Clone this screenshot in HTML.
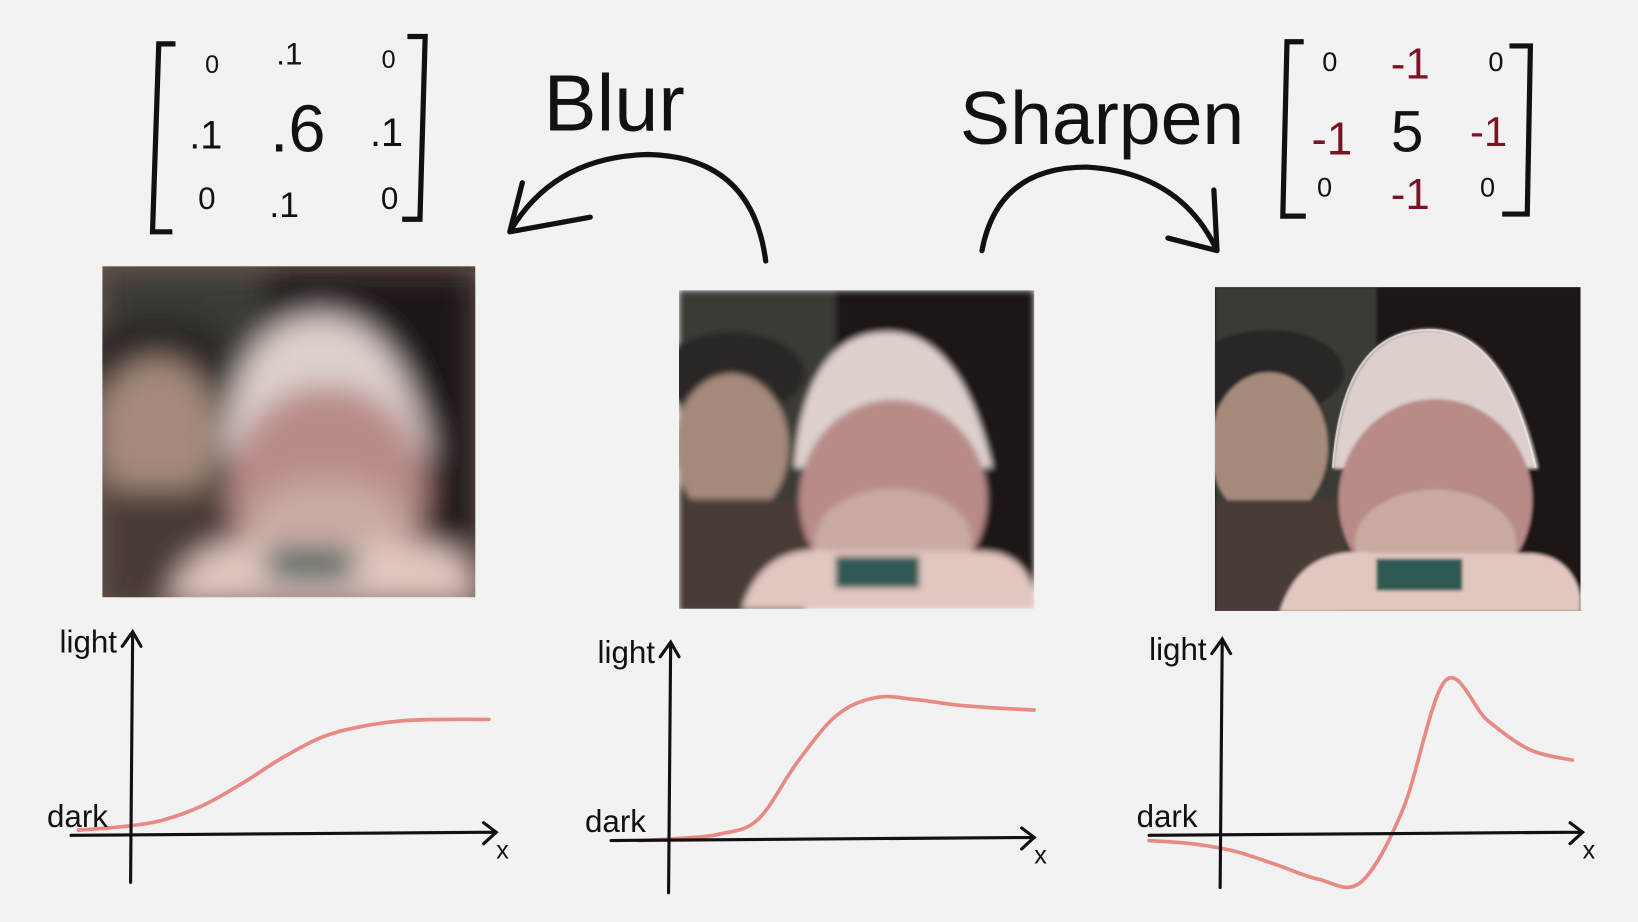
<!DOCTYPE html>
<html><head><meta charset="utf-8">
<style>
html,body{margin:0;padding:0;background:#f2f2f2;}
svg{display:block;}
text{font-family:"Liberation Sans",sans-serif;}
</style></head>
<body>
<svg id="root" width="1638" height="922" viewBox="0 0 1568 883" preserveAspectRatio="none" xmlns="http://www.w3.org/2000/svg">
<defs>
<filter id="blurBig" x="-20%" y="-20%" width="140%" height="140%"><feGaussianBlur stdDeviation="14"/></filter>
<filter id="blurSm"><feGaussianBlur stdDeviation="3"/></filter>
<filter id="blurXs"><feGaussianBlur stdDeviation="1.5"/></filter>
<clipPath id="c1"><rect x="98" y="255" width="357" height="317"/></clipPath>
<clipPath id="c2"><rect x="650" y="278" width="340" height="305"/></clipPath>
<clipPath id="c3"><rect x="1163" y="275" width="350" height="310"/></clipPath>
<g id="scene">
  <rect x="0" y="0" width="340" height="305" fill="#1c1818"/>
  <rect x="0" y="0" width="150" height="305" fill="#3a3a35"/>
  <ellipse cx="50" cy="80" rx="70" ry="40" fill="#2a2826"/>
  <ellipse cx="50" cy="150" rx="55" ry="70" fill="#a58a7c"/>
  <rect x="0" y="200" width="120" height="110" fill="#4a3a36"/>
  <path d="M110 170 Q120 40 200 40 Q270 40 300 170 Z" fill="#ddd0cc"/>
  <ellipse cx="205" cy="200" rx="90" ry="95" fill="#b88a88"/>
  <ellipse cx="205" cy="240" rx="75" ry="50" fill="#c8aaa2"/>
  <path d="M60 305 Q80 240 150 250 L290 250 Q330 250 340 290 L340 305 Z" fill="#e2c6c0"/>
  <rect x="150" y="255" width="80" height="30" fill="#2f5a52"/>
</g>
</defs>

<g clip-path="url(#c1)">
  <rect x="98" y="255" width="357" height="317" fill="#6a5652"/>
  <g filter="url(#blurBig)"><use href="#scene" transform="translate(98 260) scale(1.05 1.04)"/></g>
</g>
<g clip-path="url(#c2)">
  <g filter="url(#blurSm)"><use href="#scene" transform="translate(650 278)"/></g>
</g>
<g clip-path="url(#c3)">
  <rect x="1163" y="275" width="350" height="310" fill="#1a1616"/>
  <g filter="url(#blurXs)"><use href="#scene" transform="translate(1163 275) scale(1.03 1.02)"/></g>
  <g fill="none" stroke="#f4eeee" stroke-width="2" opacity="0.7">
    <path d="M1276 448 Q1285 316 1368 316 Q1440 316 1470 448"/>
  </g>
</g>

<g fill="#111" font-size="30" text-anchor="middle">
  <path d="M168 42 L152 42 L146 222 L165 222" fill="none" stroke="#111" stroke-width="5"/>
  <path d="M390 35 L407 35 L402 210 L385 210" fill="none" stroke="#111" stroke-width="5"/>
  <text x="203" y="70" font-size="24">0</text><text x="277" y="62" font-size="30">.1</text><text x="372" y="65" font-size="24">0</text>
  <text x="197" y="142" font-size="38">.1</text><text x="285" y="145" font-size="64">.6</text><text x="370" y="140" font-size="38">.1</text>
  <text x="198" y="200" font-size="30">0</text><text x="272" y="208" font-size="34">.1</text><text x="373" y="200" font-size="30">0</text>
</g>
<text x="588" y="125" font-size="76" text-anchor="middle" fill="#111">Blur</text>
<path d="M733 250 Q720 150 620 148 Q530 150 488 222 M488 222 L500 175 M488 222 L565 208" fill="none" stroke="#111" stroke-width="5" stroke-linecap="round"/>

<text x="1055" y="138" font-size="72" text-anchor="middle" fill="#111">Sharpen</text>
<path d="M940 240 Q955 160 1040 160 Q1130 165 1165 240 M1165 240 L1162 182 M1165 240 L1118 228" fill="none" stroke="#111" stroke-width="5" stroke-linecap="round"/>
<g text-anchor="middle">
  <path d="M1248 40 L1232 40 L1228 207 L1250 207" fill="none" stroke="#111" stroke-width="5"/>
  <path d="M1445 44 L1465 44 L1462 205 L1438 205" fill="none" stroke="#111" stroke-width="5"/>
  <text x="1273" y="68" font-size="26" fill="#111">0</text><text x="1350" y="75" font-size="42" fill="#7a1424">-1</text><text x="1432" y="68" font-size="26" fill="#111">0</text>
  <text x="1275" y="148" font-size="44" fill="#7a1424">-1</text><text x="1347" y="145" font-size="56" fill="#111">5</text><text x="1425" y="140" font-size="40" fill="#7a1424">-1</text>
  <text x="1268" y="188" font-size="26" fill="#111">0</text><text x="1350" y="200" font-size="42" fill="#7a1424">-1</text><text x="1424" y="188" font-size="26" fill="#111">0</text>
</g>

<g id="charts"></g>
</svg>
<script>
// light-level samples (px above x-axis, evenly spaced along each curve's x span)
const blurValues = [5, 8, 14, 28, 50, 75, 95, 105, 110, 111, 111];
const originalValues = [0, 2, 6, 20, 75, 120, 137, 135, 130, 127, 125];
const sharpenValues = [-5, -8, -15, -28, -42, -45, 25, 148, 110, 82, 72];
const axisLabels = ["light", "dark", "x"];

const ns = "http://www.w3.org/2000/svg";
const g = document.getElementById("charts");
const charts = [
  {name:"blur", vals:blurValues, yAxisX:125, axisY:800, yTop:605, yBot:845, xL:68, xR:475, cx0:75, cx1:468},
  {name:"original", vals:originalValues, yAxisX:640, axisY:805, yTop:615, yBot:855, xL:585, xR:990, cx0:612, cx1:990},
  {name:"sharpen", vals:sharpenValues, yAxisX:1168, axisY:800, yTop:612, yBot:850, xL:1100, xR:1515, cx0:1100, cx1:1505}
];
function mk(tag, attrs){const e=document.createElementNS(ns,tag);for(const k in attrs)e.setAttribute(k,attrs[k]);return e;}
charts.forEach(c=>{
  const grp = mk("g",{});
  
  
  const xs = i => c.cx0 + (c.cx1-c.cx0)*i/(c.vals.length-1);
  const ys = v => c.axisY - v;
  const pts = c.vals.map((v,i)=>[xs(i),ys(v)]);
  let d = "M"+pts[0][0]+" "+pts[0][1];
  for(let i=0;i<pts.length-1;i++){
    const p0=pts[Math.max(0,i-1)],p1=pts[i],p2=pts[i+1],p3=pts[Math.min(pts.length-1,i+2)];
    d+=" C"+(p1[0]+(p2[0]-p0[0])/6)+" "+(p1[1]+(p2[1]-p0[1])/6)+" "+(p2[0]-(p3[0]-p1[0])/6)+" "+(p2[1]-(p3[1]-p1[1])/6)+" "+p2[0]+" "+p2[1];
  }
  const xa = mk("path",{d:`M${c.xL} ${c.axisY} L${c.xR} ${c.axisY-3} M${c.xR-12} ${c.axisY-12} L${c.xR} ${c.axisY-3} L${c.xR-12} ${c.axisY+8}`,fill:"none",stroke:"#111","stroke-width":3,"stroke-linecap":"round"});
  
  
  const ya = mk("path",{d:`M${c.yAxisX} ${c.yBot} L${c.yAxisX+2} ${c.yTop} M${c.yAxisX-8} ${c.yTop+14} L${c.yAxisX+2} ${c.yTop} L${c.yAxisX+10} ${c.yTop+14}`,fill:"none",stroke:"#111","stroke-width":3,"stroke-linecap":"round"});
  
  
  const curve = mk("path",{d:d,fill:"none",stroke:"#e88a84","stroke-width":3.5,"stroke-linecap":"round"});
  
  
  grp.appendChild(curve);grp.appendChild(xa);grp.appendChild(ya);
  const t1 = mk("text",{x:c.yAxisX-68,y:c.yTop+20,"font-size":30,fill:"#111"});t1.textContent=axisLabels[0];
  
  
  const t2 = mk("text",{x:c.yAxisX-80,y:c.axisY-8,"font-size":30,fill:"#111"});t2.textContent=axisLabels[1];
  
  
  const t3 = mk("text",{x:c.xR+0,y:c.axisY+22,"font-size":24,fill:"#111"});t3.textContent=axisLabels[2];
  
  
  grp.appendChild(t1);grp.appendChild(t2);grp.appendChild(t3);
  g.appendChild(grp);
});
</script>
</body></html>
